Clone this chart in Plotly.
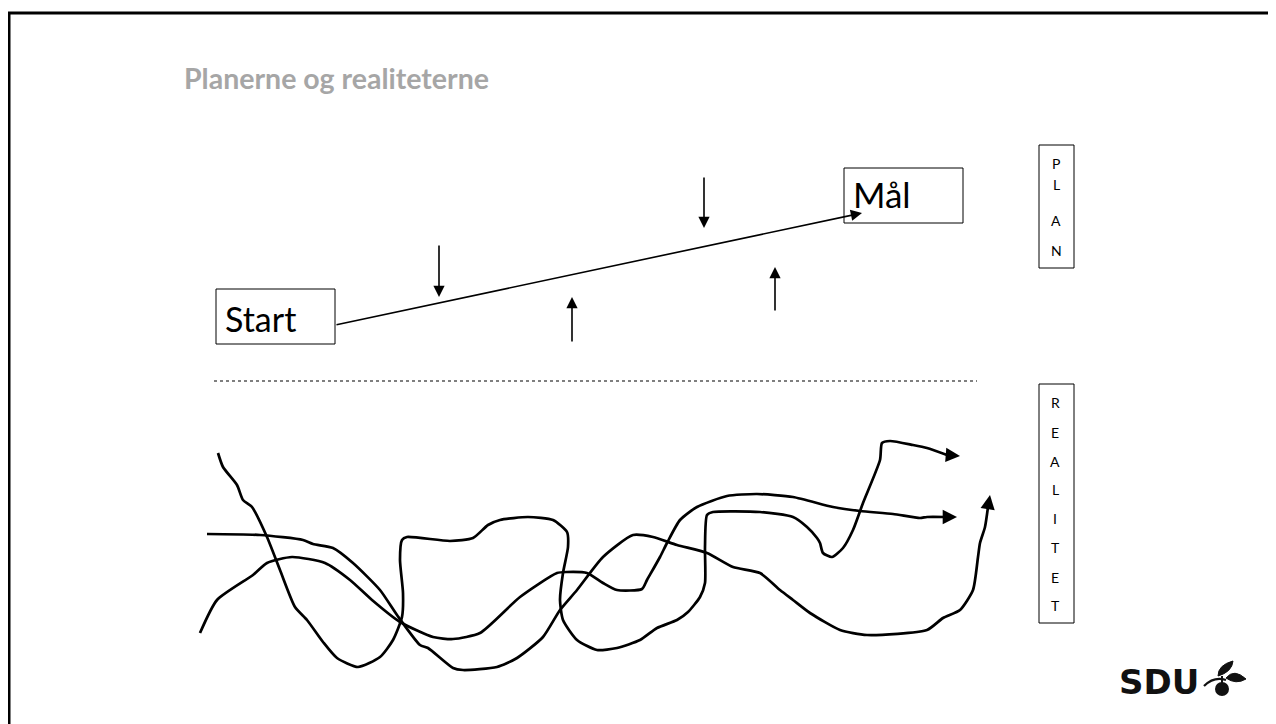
import plotly.graph_objects as go

# ---------------- data (pixel-space drawing coordinates) ----------------
title_text = "Planerne og realiteterne"
plan_letters = ["P", "L", "A", "N"]
plan_letter_y = [163, 184, 220, 250]
real_letters = ["R", "E", "A", "L", "I", "T", "E", "T"]
real_letter_y = [402, 432, 461, 489, 518, 547, 577, 605]

start_label = "Start"
goal_label = "Mål"

plan_line_x = [335, 862]
plan_line_y = [325, 213]

# vertical disturbance arrows: (x, tail_y, tip_y)
dist_x = [439, 572, 704, 775]
dist_tail_y = [244, 343, 176, 312]
dist_tip_y = [297, 297, 228, 267]

curve_a_x = [218, 223, 237, 243, 252, 267, 280, 295, 307, 323, 337, 358, 380, 393, 402, 403, 400, 402,
             407, 450, 473, 488, 500, 528, 553, 567, 568, 563, 560, 563, 577, 597, 617, 640, 657, 677,
             688, 700, 705, 705, 707, 713, 760, 793, 807, 817, 820, 823, 832, 843, 853, 863, 880, 882,
             890, 913, 927, 947]
curve_a_y = [453, 467, 485, 500, 507, 537, 570, 607, 620, 642, 658, 667, 657, 640, 617, 593, 560, 540,
             537, 541, 538, 525, 520, 517, 520, 532, 547, 573, 600, 620, 640, 650, 648, 640, 628, 620,
             612, 597, 583, 547, 515, 512, 512, 517, 527, 538, 543, 553, 557, 548, 530, 503, 460, 443,
             441, 445, 448, 455]

curve_b_x = [200, 217, 253, 267, 292, 325, 350, 372, 400, 433, 453, 480, 520, 557, 567, 587, 603, 617,
             642, 647, 660, 667, 680, 697, 727, 757, 793, 833, 860, 893, 920, 927, 945]
curve_b_y = [633, 600, 575, 563, 557, 563, 580, 600, 622, 637, 639, 633, 597, 573, 572, 573, 583, 590,
             589, 580, 557, 543, 520, 507, 496, 494, 497, 507, 511, 514, 518, 517, 517]

curve_c_x = [207, 260, 303, 313, 333, 353, 380, 397, 420, 428, 453, 463, 497, 517, 543, 560, 577, 603,
             633, 653, 677, 707, 733, 760, 780, 793, 810, 840, 867, 927, 943, 960, 973, 978, 980, 985, 988]
curve_c_y = [534, 535, 540, 544, 548, 563, 590, 615, 645, 648, 668, 670, 667, 658, 637, 610, 590, 557,
             535, 537, 545, 553, 567, 573, 590, 600, 613, 630, 635, 630, 618, 610, 590, 557, 543, 527, 507]

# arrow tips at the curve ends
curve_tip_x = [960, 957, 990]
curve_tip_y = [456, 517, 495]

# page body margin of the html page (px) is compensated in the axis ranges
PAGE_OFFSET = 8

# ---------------- figure ----------------
fig = go.Figure()

for cx, cy in [(curve_a_x, curve_a_y), (curve_b_x, curve_b_y), (curve_c_x, curve_c_y)]:
    fig.add_trace(go.Scatter(x=cx, y=cy, mode="lines",
                             line=dict(color="black", width=2.7, shape="spline", smoothing=0.6),
                             hoverinfo="skip", showlegend=False))

annotations = []
# curve end arrowheads
for (cx, cy), tx, ty in zip([(curve_a_x, curve_a_y), (curve_b_x, curve_b_y), (curve_c_x, curve_c_y)],
                            curve_tip_x, curve_tip_y):
    annotations.append(dict(x=tx, y=ty, ax=cx[-1], ay=cy[-1], xref="x", yref="y", axref="x", ayref="y",
                            showarrow=True, arrowhead=2, arrowsize=1.3, arrowwidth=2.2,
                            arrowcolor="black", text=""))

# plan line
annotations.append(dict(x=plan_line_x[1], y=plan_line_y[1], ax=plan_line_x[0], ay=plan_line_y[0],
                        xref="x", yref="y", axref="x", ayref="y", showarrow=True, arrowhead=2,
                        arrowsize=1.4, arrowwidth=1.6, arrowcolor="black", text=""))

# disturbance arrows
for dx, t0, t1 in zip(dist_x, dist_tail_y, dist_tip_y):
    annotations.append(dict(x=dx, y=t1, ax=dx, ay=t0, xref="x", yref="y", axref="x", ayref="y",
                            showarrow=True, arrowhead=2, arrowsize=1.4, arrowwidth=1.6,
                            arrowcolor="black", text=""))

# texts
annotations.append(dict(x=182, y=78, xref="x", yref="y", text="<b>" + title_text + "</b>",
                        showarrow=False, xanchor="left", yanchor="middle",
                        font=dict(family="Lato", size=28.5, color="#A6A6A6")))
annotations.append(dict(x=223, y=318, xref="x", yref="y", text=start_label, showarrow=False,
                        xanchor="left", yanchor="middle", font=dict(family="Lato", size=34, color="black")))
annotations.append(dict(x=851, y=194, xref="x", yref="y", text=goal_label, showarrow=False,
                        xanchor="left", yanchor="middle", font=dict(family="Lato", size=35, color="black")))
for l, y in zip(plan_letters, plan_letter_y):
    annotations.append(dict(x=1056, y=y, xref="x", yref="y", text=l, showarrow=False,
                            xanchor="center", yanchor="middle",
                            font=dict(family="Lato", size=14, color="black")))
for l, y in zip(real_letters, real_letter_y):
    annotations.append(dict(x=1055, y=y, xref="x", yref="y", text=l, showarrow=False,
                            xanchor="center", yanchor="middle",
                            font=dict(family="Lato", size=14, color="black")))
annotations.append(dict(x=1201, y=682, xref="x", yref="y", text="<b>SDU</b>", showarrow=False,
                        xanchor="right", yanchor="middle",
                        font=dict(family="DejaVu Sans", size=34, color="#111111")))

shapes = [
    # slide frame
    dict(type="rect", xref="x", yref="y", x0=9, y0=13, x1=1300, y1=760,
         line=dict(color="black", width=3)),
    # Start box
    dict(type="rect", xref="x", yref="y", x0=216, y0=289, x1=335, y1=344,
         line=dict(color="black", width=1)),
    # Mål box
    dict(type="rect", xref="x", yref="y", x0=844, y0=168, x1=963, y1=223,
         line=dict(color="black", width=1)),
    # PLAN box
    dict(type="rect", xref="x", yref="y", x0=1039, y0=145, x1=1074, y1=268,
         line=dict(color="black", width=1)),
    # REALITET box
    dict(type="rect", xref="x", yref="y", x0=1039, y0=384, x1=1074, y1=623,
         line=dict(color="black", width=1)),
    # dotted separator
    dict(type="line", xref="x", yref="y", x0=214, y0=381, x1=977, y1=381,
         line=dict(color="black", width=1.2, dash="dot")),
    # SDU emblem: apple, stem, leaves
    dict(type="circle", xref="x", yref="y", x0=1215, y0=682, x1=1229, y1=696,
         fillcolor="#111111", line=dict(width=0)),
    dict(type="path", xref="x", yref="y", path="M 1204,686 Q 1214,676 1226,680",
         line=dict(color="#111111", width=2.2)),
    dict(type="path", xref="x", yref="y", path="M 1222,683 L 1222,676",
         line=dict(color="#111111", width=2)),
    dict(type="path", xref="x", yref="y", path="M 1218,676 Q 1218,665 1233,661 Q 1232,672 1218,676 Z",
         fillcolor="#111111", line=dict(color="#111111", width=1)),
    dict(type="path", xref="x", yref="y", path="M 1226,678 Q 1234,668 1246,679 Q 1236,685 1226,678 Z",
         fillcolor="#111111", line=dict(color="#111111", width=1)),
]

fig.update_layout(
    width=1276, height=724,
    margin=dict(l=0, r=0, t=0, b=0),
    paper_bgcolor="white", plot_bgcolor="white",
    xaxis=dict(range=[PAGE_OFFSET, 1276 + PAGE_OFFSET], visible=False, fixedrange=True),
    yaxis=dict(range=[724 + PAGE_OFFSET, PAGE_OFFSET], visible=False, fixedrange=True),
    shapes=shapes, annotations=annotations, showlegend=False,
)

fig.write_html("out.html")
